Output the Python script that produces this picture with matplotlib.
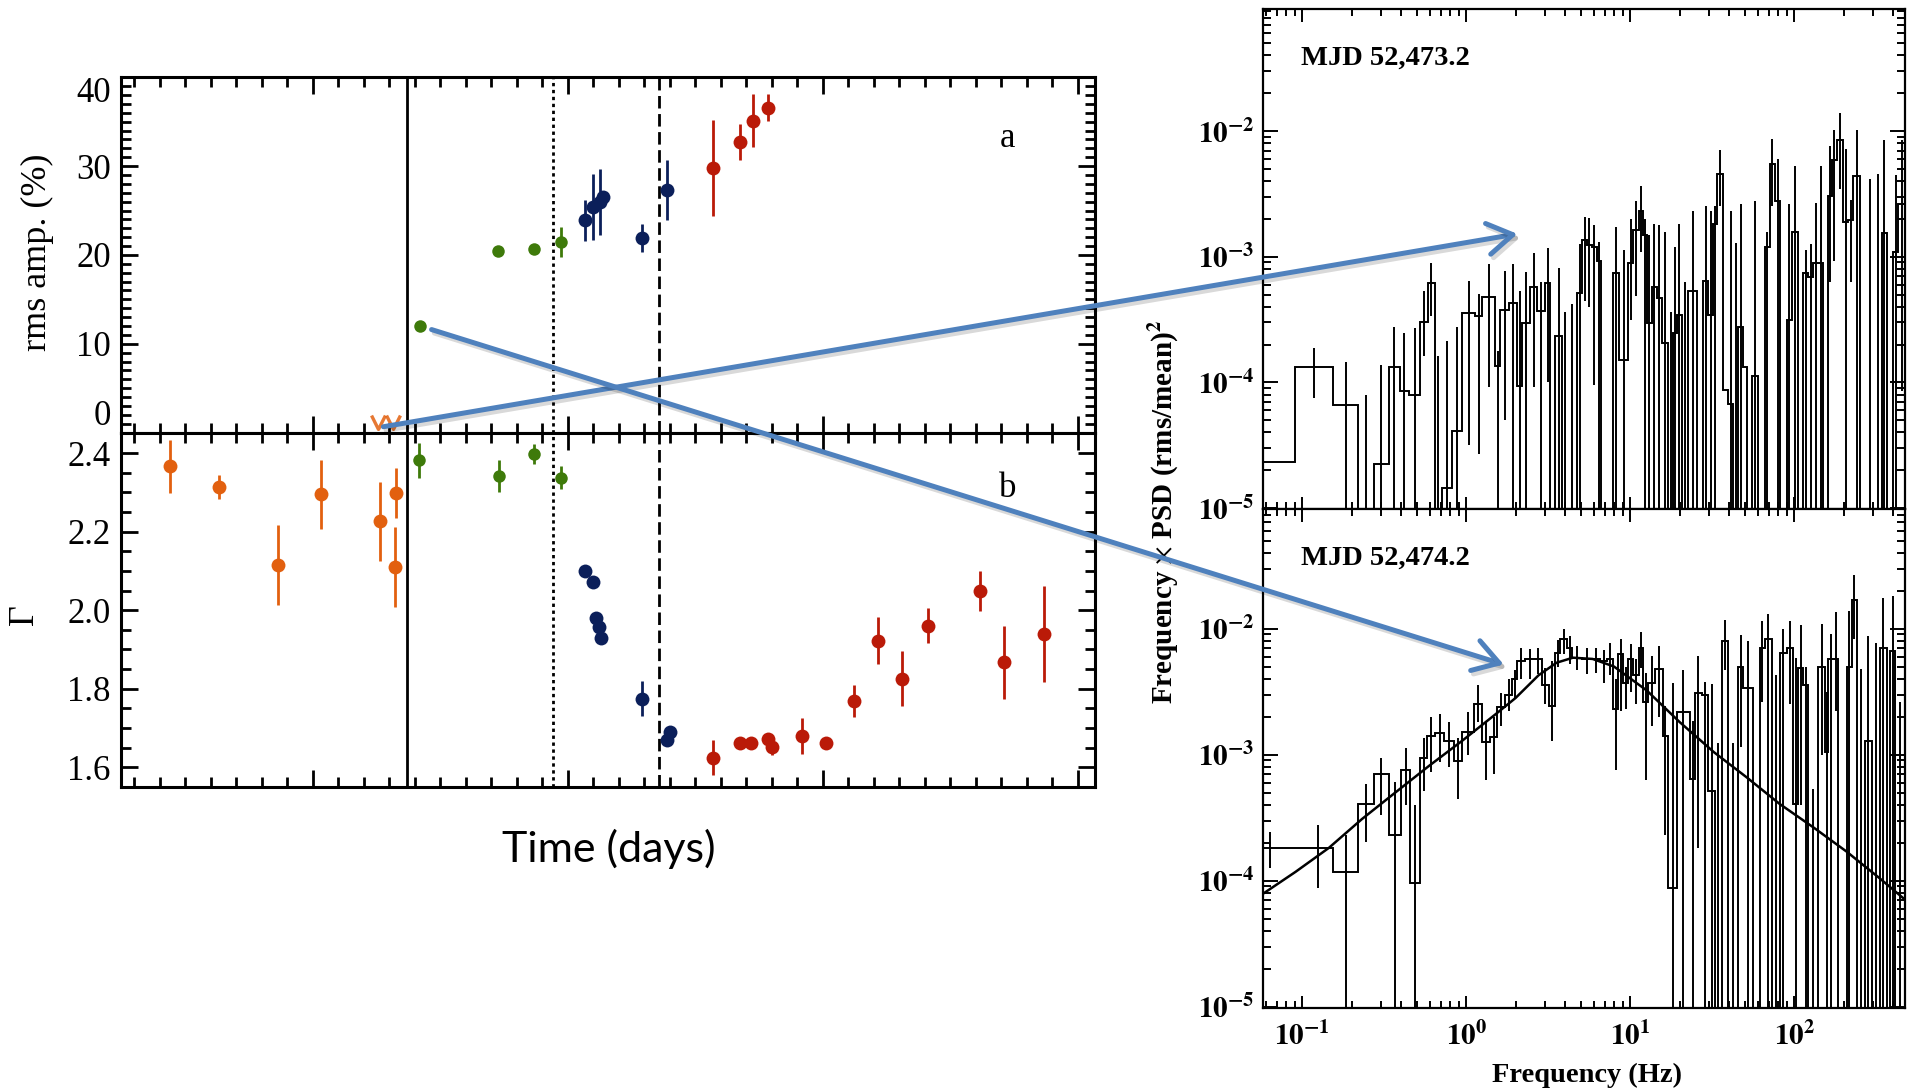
#!/usr/bin/env python3
"""Outburst timing summary: rms amplitude and photon index vs time,
with the power spectra of the two observations around the transition.

Uso:
    python plot.py
"""
import matplotlib
matplotlib.use("Agg")
import matplotlib.pyplot as plt
import numpy as np
from matplotlib import patheffects
from matplotlib.patches import ConnectionPatch, ArrowStyle
from matplotlib.path import Path
from matplotlib.ticker import MultipleLocator, LogLocator, NullFormatter, FuncFormatter

NA = np.nan

# ---- panel a: fractional rms amplitude (%) ----
rms_green_t = [14.20, 17.28, 18.69, 19.74]
rms_green = [12.0, 20.5, 20.7, 21.5]
rms_green_err = [0.4, 0.5, 0.5, 1.7]

rms_navy_t = [20.66, 20.98, 21.26, 21.40, 22.91, 23.90]
rms_navy = [23.9, 25.4, 26.0, 26.5, 21.9, 27.3]
rms_navy_err = [2.3, 3.7, 3.7, 0.0, 1.6, 3.4]

rms_red_t = [25.71, 26.77, 27.25, 27.85]
rms_red = [29.8, 32.7, 35.1, 36.6]
rms_red_err = [5.4, 2.0, 3.0, 1.5]

# upper limits before the transition
rms_lim_t = [12.57, 13.16]
rms_lim = [1.15, 1.15]

# ---- panel b: photon index ----
gam_orange_t = [4.42, 6.32, 8.65, 10.31, 12.62, 13.27, 13.23]
gam_orange = [2.366, 2.313, 2.116, 2.295, 2.226, 2.298, 2.110]
gam_orange_err = [0.067, 0.030, 0.102, 0.088, 0.100, 0.064, 0.102]

gam_green_t = [14.17, 17.29, 18.69, 19.75]
gam_green = [2.381, 2.342, 2.398, 2.337]
gam_green_err = [0.044, 0.040, 0.026, 0.029]

gam_navy_t = [20.66, 21.00, 21.12, 21.22, 21.31, 22.91, 23.89, 24.03]
gam_navy = [2.099, 2.071, 1.981, 1.956, 1.928, 1.775, 1.670, 1.690]
gam_navy_err = [0.0, 0.0, 0.0, 0.0, 0.0, 0.044, 0.0, 0.0]

gam_red_t = [25.71, 26.77, 27.17, 27.85, 28.03, 29.20, 30.14,
             31.24, 32.15, 33.12, 34.14, 36.17, 37.10, 38.69]
gam_red = [1.625, 1.663, 1.663, 1.671, 1.651, 1.680, 1.662,
           1.769, 1.922, 1.826, 1.961, 2.049, 1.868, 1.939]
gam_red_err = [0.044, 0.0, 0.0, 0.0, 0.020, 0.045, 0.0,
               0.040, 0.060, 0.070, 0.045, 0.052, 0.093, 0.122]

# state transitions (days)
t_solid = 13.70
t_dotted = 19.44
t_dashed = 23.59

# ---- PSD, MJD 52,473.2 (log10 Hz edges, log10 f*P) ; NA = below range ----
psd1_edges = [-1.236, -1.042, -0.813, -0.660, -0.565, -0.473, -0.406, -0.351,
              -0.280, -0.234, -0.193, -0.148, -0.087, -0.026, 0.055, 0.096,
              0.177, 0.208, 0.258, 0.309, 0.340, 0.390, 0.431, 0.482, 0.512,
              0.543, 0.584, 0.614, 0.675, 0.706, 0.736, 0.764, 0.795, 0.819,
              0.897, 0.933, 0.988, 1.018, 1.055, 1.079, 1.100, 1.130, 1.161,
              1.191, 1.232, 1.262, 1.283, 1.313, 1.354, 1.405, 1.445, 1.476,
              1.506, 1.527, 1.567, 1.598, 1.628, 1.659, 1.689, 1.710, 1.740,
              1.781, 1.821, 1.852, 1.882, 1.913, 1.953, 1.984, 2.025, 2.055,
              2.086, 2.116, 2.147, 2.177, 2.208, 2.228, 2.258, 2.299, 2.330,
              2.360, 2.401, 2.441, 2.482, 2.533, 2.563, 2.604, 2.634, 2.675]
psd1_val = [-4.63, -3.88, -4.18, NA, -4.65, -3.88, -4.07, -4.10, -3.52, -3.21,
            NA, -4.84, -4.39, -3.45, -3.47, -3.32, -3.87, -3.42, -3.37, -4.03,
            -3.53, -3.24, -3.43, -3.21, NA, -3.63, NA, NA, -3.29, -2.87,
            -2.91, -2.92, -3.03, NA, -3.13, -3.82, -3.05, -2.79, -2.64, -2.83,
            -3.53, -3.24, -3.33, -3.69, NA, -3.61, -3.46, NA, -3.27, NA,
            -3.19, -3.46, -2.74, -2.34, -4.06, -4.17, NA, -3.56, -3.88, NA,
            -3.95, NA, -2.92, -2.26, -2.56, NA, -3.50, -2.80, NA, -3.13,
            -3.16, -3.05, -3.05, NA, -2.52, -2.23, -2.07, -2.72, -2.71, -2.36,
            NA, NA, NA, -2.81, NA, -2.96, -2.58]
psd1_hi = [NA, -3.73, -3.84, -4.10, -3.86, -3.56, -3.61, -3.57, -3.27, -3.05,
           -3.79, -3.67, -3.56, -3.19, -3.30, -3.06, -3.75, -3.11, -3.06, -3.27,
           -3.12, -2.97, -3.20, -2.93, NA, -3.09, -3.44, -3.38, -2.90, -2.68,
           -2.69, -2.75, -2.88, NA, -2.76, -2.95, -2.70, -2.56, -2.44, -2.70,
           -2.83, -2.74, -2.75, -2.80, -3.44, -2.92, -2.74, -3.20, -2.64, NA,
           -2.60, -2.64, -2.60, -2.15, NA, -2.64, -2.89, -2.58, NA, NA,
           -2.56, NA, -2.80, -2.06, -2.22, NA, -2.58, -2.28, NA, -2.95,
           -2.90, -2.57, -2.28, NA, -2.12, -1.99, -1.86, -2.14, -2.55, -1.99,
           NA, -2.38, -2.34, -2.07, NA, -2.35, -2.07]
psd1_lo = [NA, -4.12, NA, NA, NA, NA, NA, NA, -3.79, -3.47,
           NA, NA, NA, -4.50, -4.57, -4.04, NA, -4.30, NA, NA,
           NA, -4.04, NA, -4.00, NA, NA, NA, NA, NA, -3.35,
           -3.40, -4.02, NA, NA, NA, NA, -3.50, -3.31, -2.96, NA,
           NA, NA, NA, NA, NA, NA, NA, NA, NA, NA,
           NA, NA, NA, -2.60, NA, NA, NA, NA, NA, NA,
           NA, NA, NA, -2.60, NA, NA, NA, NA, NA, NA,
           NA, NA, NA, NA, -3.20, -3.03, -2.46, NA, -3.20, NA,
           NA, NA, NA, NA, NA, NA, -4.07]

# ---- PSD, MJD 52,474.2 ----
psd2_edges = [-1.400, -1.000, -0.813, -0.660, -0.565, -0.473, -0.396, -0.341,
              -0.280, -0.240, -0.189, -0.138, -0.077, -0.026, 0.045, 0.096,
              0.147, 0.187, 0.238, 0.279, 0.309, 0.360, 0.411, 0.462, 0.502,
              0.543, 0.573, 0.614, 0.645, 0.706, 0.767, 0.815, 0.860, 0.897,
              0.927, 0.958, 0.988, 1.019, 1.055, 1.080, 1.110, 1.151, 1.197,
              1.232, 1.283, 1.364, 1.395, 1.435, 1.476, 1.517, 1.557, 1.598,
              1.659, 1.689, 1.750, 1.791, 1.821, 1.862, 1.913, 1.954, 1.994,
              2.025, 2.055, 2.086, 2.147, 2.187, 2.208, 2.238, 2.269, 2.319,
              2.350, 2.380, 2.431, 2.472, 2.523, 2.563, 2.584, 2.614, 2.675]
psd2_val = [-3.74, -3.74, -3.93, -3.39, -3.15, -3.64, -3.12, -4.02, -3.03, -2.85,
            -2.83, -2.89, -3.05, -2.82, -2.60, -2.90, -2.86, -2.62, -2.53, -2.40,
            -2.26, -2.24, -2.24, -2.45, -2.61, -2.19, -2.08, -2.15, -2.23, -2.24,
            -2.24, -2.26, -2.24, -2.64, -2.20, -2.43, -2.24, -2.37, -2.15, -2.58,
            -2.43, -2.32, -2.85, -4.06, -2.66, -3.19, -2.51, -2.53, -3.29, NA,
            -2.10, NA, -2.30, -2.47, NA, -2.15, -2.08, NA, -2.19, -2.15,
            -3.39, -2.31, -2.45, NA, -2.30, -2.98, -2.24, -2.24, NA, -2.30,
            -1.77, NA, -2.89, NA, -2.15, NA, -2.18, NA]
psd2_hi = [-3.61, -3.56, -3.64, -3.23, -3.03, -3.22, -2.95, -3.40, -2.87, -2.70,
           -2.68, -2.74, -2.87, -2.66, -2.45, -2.73, -2.70, -2.51, -2.40, -2.33,
           -2.15, -2.16, -2.15, -2.31, -2.26, -2.09, -2.00, -2.06, -2.14, -2.15,
           -2.15, -2.17, -2.11, -2.40, -2.08, -2.30, -2.12, -2.24, -2.03, -2.35,
           -2.22, -2.14, -2.61, -2.43, -2.33, -2.73, -2.22, -2.42, -2.44, -2.91,
           -1.93, -2.91, -2.05, -2.10, NA, -1.94, -1.88, -2.37, -2.00, -1.94,
           -2.23, -1.97, -2.30, -3.27, -1.96, -2.50, -2.04, -1.87, NA, -1.86,
           -1.57, -2.32, -2.06, -2.11, -1.76, NA, -1.74, -2.58]
psd2_lo = [-3.90, -4.06, NA, -3.69, -3.48, NA, -3.40, NA, -3.29, -3.14,
           -3.06, -3.10, -3.35, -3.00, -2.74, -3.20, -3.15, -2.77, -2.65, -2.55,
           -2.40, -2.40, -2.36, -2.60, -2.89, -2.30, -2.20, -2.28, -2.33, -2.36,
           -2.35, -2.43, -2.37, -3.12, -2.65, -2.64, -2.50, -2.60, -2.31, -3.20,
           -2.77, -2.70, -3.64, NA, NA, NA, -3.74, NA, NA, NA,
           -2.33, NA, -2.94, NA, NA, -2.58, NA, NA, NA, -2.60,
           NA, -3.40, NA, NA, -3.00, NA, NA, -2.65, NA, NA,
           -2.08, NA, NA, NA, NA, NA, NA, NA]

# fitted model for MJD 52,474.2 (log10 Hz, log10 f*P)
model_logf = [-1.236, -1.042, -0.839, -0.636, -0.433, -0.229, -0.026, 0.177,
              0.300, 0.440, 0.550, 0.650, 0.770, 0.900, 1.100, 1.300, 1.510,
              1.710, 1.910, 2.120, 2.320, 2.520, 2.675]
model_logp = [-4.10, -3.93, -3.74, -3.51, -3.30, -3.09, -2.89, -2.68,
              -2.55, -2.37, -2.27, -2.23, -2.24, -2.30, -2.49, -2.74, -2.98,
              -3.18, -3.39, -3.58, -3.77, -3.98, -4.15]

# arrows: from the rms points to the corresponding PSD (t, rms) -> (Hz, f*P)
arrow1_from = (12.77, 0.66)
arrow1_to = (2.05, 1.52e-3)
arrow2_from = (14.66, 11.6)
arrow2_to = (1.69, 5.2e-3)

C_ORANGE = "#E2600F"
C_GREEN = "#3E7A0A"
C_NAVY = "#0B1F5A"
C_RED = "#BA1A08"
C_ARROW = "#4F81BD"
PSD_FLOOR = 1e-7

SERIF = "Liberation Serif"
plt.rcParams["font.family"] = SERIF
plt.rcParams["mathtext.fontset"] = "stix"


def _style_left(ax):
    ax.set_xlim(2.46, 40.68)
    ax.xaxis.set_major_locator(MultipleLocator(10))
    ax.xaxis.set_minor_locator(MultipleLocator(1))
    ax.tick_params(which="both", direction="in", top=True, right=True,
                   labelbottom=False, width=2.0, labelsize=25, pad=7)
    ax.tick_params(which="major", length=12.5)
    ax.tick_params(which="minor", length=7)
    for sp in ax.spines.values():
        sp.set_linewidth(2.2)
    ax.axvline(t_solid, color="k", lw=2.0)
    ax.axvline(t_dotted, color="k", lw=2.0, ls=(0, (1.2, 1.3)))
    ax.axvline(t_dashed, color="k", lw=2.0, ls=(0, (4.5, 2.0)))


def _points(ax, t, y, err, color, ms=10):
    ax.errorbar(t, y, yerr=err, fmt="o", color=color, ms=ms, mew=0,
                elinewidth=2.0, capsize=0, zorder=3)


def _style_psd(ax, ylim, show_x):
    ax.set_xscale("log")
    ax.set_yscale("log")
    ax.set_xlim(10 ** -1.24, 10 ** 2.675)
    ax.set_ylim(*ylim)
    fmt = FuncFormatter(lambda v, _: r"$\mathbf{10^{%d}}$" % round(np.log10(v)))
    for axis in (ax.xaxis, ax.yaxis):
        axis.set_major_locator(LogLocator(base=10, numticks=20))
        axis.set_minor_locator(LogLocator(base=10, subs=np.arange(2, 10), numticks=20))
        axis.set_minor_formatter(NullFormatter())
    ax.yaxis.set_major_formatter(fmt)
    ax.xaxis.set_major_formatter(fmt)
    ax.tick_params(which="both", direction="in", top=True, right=True,
                   width=1.4, labelsize=21, labelbottom=show_x)
    ax.tick_params(axis="y", which="major", length=11, pad=6)
    ax.tick_params(axis="y", which="minor", length=6)
    ax.tick_params(axis="x", which="major", length=9, pad=10)
    ax.tick_params(axis="x", which="minor", length=5)
    for sp in ax.spines.values():
        sp.set_linewidth(1.6)


def _draw_psd(ax, edges, vals, hi, lo):
    e = 10.0 ** np.asarray(edges)
    v = np.asarray(vals, dtype=float)
    hi = np.asarray(hi, dtype=float)
    lo = np.asarray(lo, dtype=float)
    steps = np.where(np.isnan(v), PSD_FLOOR, 10.0 ** v)
    ax.stairs(steps, e, baseline=None, color="k", lw=1.4)
    centers = np.sqrt(e[:-1] * e[1:])
    ok = ~np.isnan(hi)
    lo_v = np.where(np.isnan(lo), PSD_FLOOR, 10.0 ** lo)
    ax.vlines(centers[ok], lo_v[ok], 10.0 ** hi[ok], color="k", lw=1.4)


def main() -> None:
    fig = plt.figure(figsize=(19.11, 10.91), dpi=100)

    # ---- left column ----
    ax_rms = fig.add_axes([0.06306, 0.60348, 0.50994, 0.32566])
    ax_gam = fig.add_axes([0.06306, 0.27828, 0.50994, 0.32520])

    _style_left(ax_rms)
    ax_rms.set_ylim(0, 40)
    ax_rms.yaxis.set_major_locator(MultipleLocator(10))
    ax_rms.yaxis.set_minor_locator(MultipleLocator(1))
    _points(ax_rms, rms_green_t, rms_green, rms_green_err, C_GREEN, ms=9)
    _points(ax_rms, rms_navy_t, rms_navy, rms_navy_err, C_NAVY)
    _points(ax_rms, rms_red_t, rms_red, rms_red_err, C_RED)
    chevron = Path([(-1, 1), (0, -1), (1, 1)], [Path.MOVETO, Path.LINETO, Path.LINETO])
    ax_rms.plot(rms_lim_t, rms_lim, ls="none", marker=chevron, ms=10,
                mfc="none", mec=C_ORANGE, mew=2.4, alpha=0.85,
                clip_on=False, zorder=3)
    ax_rms.text(37.26, 33.1, "a", fontsize=25, ha="center", va="center")
    fig.canvas.draw()
    for lab in ax_rms.get_yticklabels():
        if lab.get_text() == "40":
            lab.set_va("top")
        elif lab.get_text() == "0":
            lab.set_va("bottom")

    _style_left(ax_gam)
    ax_gam.set_ylim(1.549, 2.452)
    ax_gam.yaxis.set_major_locator(MultipleLocator(0.2))
    ax_gam.yaxis.set_minor_locator(MultipleLocator(0.05))
    ax_gam.yaxis.set_major_formatter(FuncFormatter(lambda v, _: f"{v:.1f}"))
    _points(ax_gam, gam_orange_t, gam_orange, gam_orange_err, C_ORANGE)
    _points(ax_gam, gam_green_t, gam_green, gam_green_err, C_GREEN, ms=9)
    _points(ax_gam, gam_navy_t, gam_navy, gam_navy_err, C_NAVY)
    _points(ax_gam, gam_red_t, gam_red, gam_red_err, C_RED)
    ax_gam.text(37.26, 2.311, "b", fontsize=25, ha="center", va="center")

    fig.text(0.0194, 0.769, "rms amp. (%)", rotation=90, fontsize=26,
             ha="center", va="center")
    fig.text(0.0126, 0.4363, "\u0393", rotation=90, fontsize=26,
             ha="center", va="center")
    fig.text(0.3187, 0.2218, "Time (days)", fontsize=31, family="Lato",
             ha="center", va="center")

    # ---- right column: power spectra ----
    ax_p1 = fig.add_axes([0.66091, 0.53346, 0.33595, 0.45784])
    ax_p2 = fig.add_axes([0.66091, 0.07608, 0.33595, 0.45738])
    _style_psd(ax_p1, (10 ** -5.007, 10 ** -1.033), show_x=False)
    _style_psd(ax_p2, (10 ** -5.01, 10 ** -1.05), show_x=True)
    _draw_psd(ax_p1, psd1_edges, psd1_val, psd1_hi, psd1_lo)
    _draw_psd(ax_p2, psd2_edges, psd2_val, psd2_hi, psd2_lo)
    ax_p2.plot(10.0 ** np.asarray(model_logf), 10.0 ** np.asarray(model_logp),
               color="k", lw=1.8)

    ax_p1.text(0.059, 0.903, "MJD 52,473.2", transform=ax_p1.transAxes,
               fontsize=20.5, fontweight="bold", va="center")
    ax_p2.text(0.059, 0.902, "MJD 52,474.2", transform=ax_p2.transAxes,
               fontsize=20.5, fontweight="bold", va="center")
    fig.text(0.6091, 0.5307, r"Frequency $\times$ PSD (rms/mean)$^{\mathbf{2}}$",
             rotation=90, fontsize=21, fontweight="bold", ha="center", va="center")
    fig.text(0.8305, 0.0147, "Frequency (Hz)", fontsize=20.5, fontweight="bold",
             ha="center", va="center")

    # ---- arrows linking the rms points to their PSDs ----
    shadow = [patheffects.SimpleLineShadow(offset=(2, -2.5), shadow_color="k", alpha=0.15),
              patheffects.Normal()]
    for xy_a, xy_b, ax_b in ((arrow1_from, arrow1_to, ax_p1),
                             (arrow2_from, arrow2_to, ax_p2)):
        con = ConnectionPatch(xyA=xy_a, coordsA=ax_rms.transData,
                              xyB=xy_b, coordsB=ax_b.transData,
                              arrowstyle=ArrowStyle("->", head_length=0.45, head_width=0.28),
                              mutation_scale=40, color=C_ARROW, lw=3.6,
                              shrinkA=0, shrinkB=0, capstyle="round", zorder=20)
        con.set_path_effects(shadow)
        fig.add_artist(con)

    fig.savefig("out.png", dpi=100)
    plt.close(fig)


if __name__ == "__main__":
    main()
